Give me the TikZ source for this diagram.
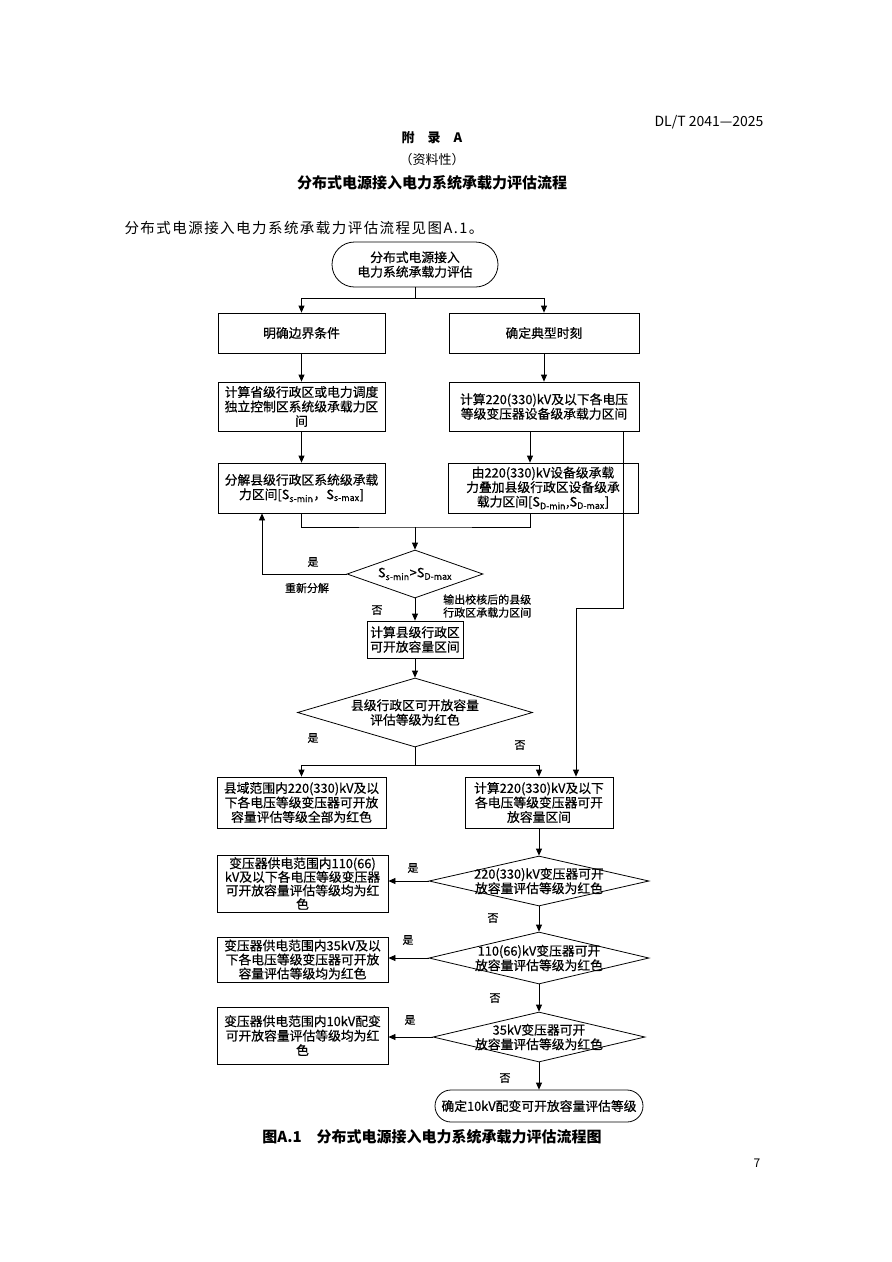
\documentclass[tikz,border=0pt]{standalone}
\usepackage{fontspec}
\setmainfont{Noto Sans CJK SC}
\newfontfamily\bxfont{Noto Sans CJK SC}[FakeBold=0.5]
\newfontfamily\spfont{Noto Sans CJK SC}[LetterSpace=10]
\usetikzlibrary{shapes.geometric,shapes.misc,arrows.meta}
\begin{document}
\begin{tikzpicture}[x=1pt,y=-1pt,
  box/.style={draw, line width=0.8pt, rectangle, inner sep=1pt, align=center, font=\bxfont\fontsize{12.8}{14.5}\selectfont},
  dia/.style={draw, line width=0.8pt, diamond, inner sep=0pt},
  dtxt/.style={align=center, inner sep=0pt, font=\bxfont\fontsize{12.8}{14.5}\selectfont},
  term/.style={draw, line width=0.8pt, rounded rectangle, inner sep=1pt, align=center, font=\bxfont\fontsize{12.8}{14.5}\selectfont},
  arr/.style={line width=0.8pt, -{Triangle[length=7pt,width=6pt]}},
  ln/.style={line width=0.8pt},
  lbl/.style={font=\bxfont\fontsize{11}{13}\selectfont, inner sep=0pt}
]
\fill[white] (0,0) rectangle (892,1262);
\useasboundingbox (0,0) rectangle (892,1262);

% page header
\node[anchor=east, font=\fontsize{14}{16}\selectfont] (hdr) at (767,122) {DL/T 2041—2025};
\node[font=\bfseries\fontsize{13}{15}\selectfont] (appx) at (432,138) {附\quad 录\quad A};
\node[font=\fontsize{13}{15}\selectfont] (info) at (432,160) {（资料性）};
\node[font=\bfseries\fontsize{15}{17}\selectfont] (ttl) at (432,183) {分布式电源接入电力系统承载力评估流程};
\node[anchor=west, font=\spfont\fontsize{14.5}{16}\selectfont] (intro) at (121,228) {分布式电源接入电力系统承载力评估流程见图A.1。};

% nodes
\node[term, minimum width=168pt, minimum height=45pt] (start) at (415,264.5) {分布式电源接入\\电力系统承载力评估};
\node[box, minimum width=167pt, minimum height=40pt] (b1) at (301.5,333) {明确边界条件};
\node[box, minimum width=190pt, minimum height=40pt] (b2) at (544,333) {确定典型时刻};
\node[box, minimum width=167pt, minimum height=49pt] (b3) at (301.5,406.5) {计算省级行政区或电力调度\\独立控制区系统级承载力区\\间};
\node[box, minimum width=190pt, minimum height=49pt] (b4) at (544,406.5) {计算220(330)kV及以下各电压\\等级变压器设备级承载力区间};
\node[box, minimum width=167pt, minimum height=50pt] (b5) at (301.5,488) {分解县级行政区系统级承载\\力区间[S\textsubscript{s-min}，S\textsubscript{s-max}]};
\node[box, minimum width=190pt, minimum height=50pt] (b6) at (543,488) {由220(330)kV设备级承载\\力叠加县级行政区设备级承\\载力区间[S\textsubscript{D-min},S\textsubscript{D-max}]};
\node[dia, minimum width=136pt, minimum height=48pt] (d1) at (415,574) {};
\node[dtxt] (d1t) at (d1.center) {S\textsubscript{s-min}>S\textsubscript{D-max}};
\node[box, minimum width=96pt, minimum height=37pt] (b7) at (415,639.5) {计算县级行政区\\可开放容量区间};
\node[dia, minimum width=235pt, minimum height=69pt] (d2) at (415,712.5) {};
\node[dtxt] (d2t) at (d2.center) {县级行政区可开放容量\\评估等级为红色};
\node[box, minimum width=169pt, minimum height=51pt] (b8) at (301.5,802.5) {县域范围内220(330)kV及以\\下各电压等级变压器可开放\\容量评估等级全部为红色};
\node[box, minimum width=148pt, minimum height=51pt] (b9) at (539,802.5) {计算220(330)kV及以下\\各电压等级变压器可开\\放容量区间};
\node[dia, minimum width=220pt, minimum height=50pt] (d3) at (539,881) {};
\node[dtxt] (d3t) at (d3.center) {220(330)kV变压器可开\\放容量评估等级为红色};
\node[box, minimum width=171pt, minimum height=57pt, font=\bxfont\fontsize{12.8}{13.6}\selectfont] (b10) at (302.5,883.5) {变压器供电范围内110(66)\\kV及以下各电压等级变压器\\可开放容量评估等级均为红\\色};
\node[dia, minimum width=220pt, minimum height=52pt] (d4) at (539,958) {};
\node[dtxt] (d4t) at (d4.center) {110(66)kV变压器可开\\放容量评估等级为红色};
\node[box, minimum width=171pt, minimum height=45pt, font=\bxfont\fontsize{12.8}{14}\selectfont] (b11) at (302.5,959.5) {变压器供电范围内35kV及以\\下各电压等级变压器可开放\\容量评估等级均为红色};
\node[dia, minimum width=212pt, minimum height=50pt] (d5) at (539,1037) {};
\node[dtxt] (d5t) at (d5.center) {35kV变压器可开\\放容量评估等级为红色};
\node[box, minimum width=171pt, minimum height=57pt] (b12) at (302.5,1035.5) {变压器供电范围内10kV配变\\可开放容量评估等级均为红\\色};
\node[term, minimum width=210pt, minimum height=32pt] (end) at (539,1106) {确定10kV配变可开放容量评估等级};

% helper coordinates
\coordinate (s0) at (415,298);
\coordinate (xr) at (530,0);
\coordinate (m1) at (415,527);
\coordinate (xl) at (262,0);
\coordinate (k1) at (623,608);
\coordinate (k2) at (576,608);
\coordinate (s2) at (415,765);

% connectors
\draw[ln] (start.south) -- (s0);
\draw[arr] (s0) -| (b1.north);
\draw[arr] (s0) -| (b2.north);
\draw[arr] (b1.south) -- (b3.north);
\draw[arr] (b2.south) -- (b4.north);
\draw[arr] (b3.south) -- (b5.north);
\draw[arr] (b4.south -| xr) -- (b6.north -| xr);
\draw[ln] (b5.south) |- (m1) -| (b6.south -| xr);
\draw[arr] (m1) -- (d1.north);
\draw[arr] (d1.west) -| (b5.south -| xl);
\draw[arr] (d1.south) -- (b7.north);
\draw[arr] (b4.south -| k1) -- (k1) -- (k2) -- (b9.north -| k2);
\draw[arr] (b7.south) -- (d2.north);
\draw[ln] (d2.south) -- (s2);
\draw[arr] (s2) -| (b8.north);
\draw[arr] (s2) -| (b9.north);
\draw[arr] (b9.south) -- (d3.north);
\draw[arr] (d3.west) -- (d3.west -| b10.east);
\draw[arr] (d3.south) -- (d4.north);
\draw[arr] (d4.west) -- (d4.west -| b11.east);
\draw[arr] (d4.south) -- (d5.north);
\draw[arr] (d5.west) -- (d5.west -| b12.east);
\draw[arr] (d5.south) -- (end.north);

% branch labels
\node[lbl] (l1) at (313,562) {是};
\node[lbl] (l2) at (307,588) {重新分解};
\node[lbl] (l3) at (377,610) {否};
\node[lbl, align=left, anchor=west] (l4) at (443,606) {输出校核后的县级\\行政区承载力区间};
\node[lbl] (l5) at (313,738) {是};
\node[lbl] (l6) at (520,745) {否};
\node[lbl] (l7) at (413,868) {是};
\node[lbl] (l8) at (493,918) {否};
\node[lbl] (l9) at (408,940) {是};
\node[lbl] (l10) at (495,998) {否};
\node[lbl] (l11) at (410,1020) {是};
\node[lbl] (l12) at (505,1078) {否};

% caption and page number
\node[font=\bfseries\fontsize{15}{17}\selectfont] (cap) at (432,1137) {图A.1\quad 分布式电源接入电力系统承载力评估流程图};
\node[font=\fontsize{12}{14}\selectfont] (pg) at (757,1163) {7};
\end{tikzpicture}
\end{document}
